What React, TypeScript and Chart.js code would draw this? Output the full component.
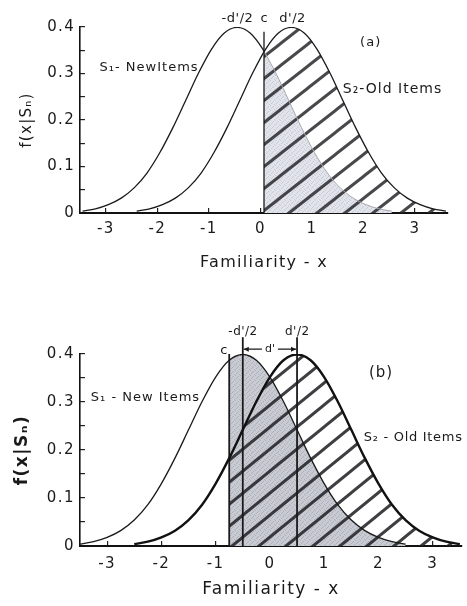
import React, { useEffect, useRef } from "react";
import { Chart, registerables } from "chart.js";
Chart.register(...registerables);

// ---------- data ----------
// Panel (a)
const NEW_A_X = [-3.45, -3.2, -2.95, -2.7, -2.45, -2.2, -1.95, -1.7, -1.45, -1.2, -0.95, -0.7, -0.45, -0.2, 0.05, 0.3, 0.55, 0.8, 1.05, 1.3, 1.55, 1.8, 2.05, 2.3, 2.55];
const NEW_A_Y = [0.004, 0.009, 0.018, 0.032, 0.054, 0.086, 0.13, 0.183, 0.242, 0.301, 0.352, 0.387, 0.399, 0.387, 0.352, 0.301, 0.242, 0.183, 0.13, 0.086, 0.054, 0.032, 0.018, 0.009, 0.004];
const OLD_A_X = [-2.4, -2.15, -1.9, -1.65, -1.4, -1.15, -0.9, -0.65, -0.4, -0.15, 0.1, 0.35, 0.6, 0.85, 1.1, 1.35, 1.6, 1.85, 2.1, 2.35, 2.6, 2.85, 3.1, 3.35, 3.6];
const OLD_A_Y = [0.004, 0.009, 0.018, 0.032, 0.054, 0.086, 0.13, 0.183, 0.242, 0.301, 0.352, 0.387, 0.399, 0.387, 0.352, 0.301, 0.242, 0.183, 0.13, 0.086, 0.054, 0.032, 0.018, 0.009, 0.004];
const CRIT_A = 0.07;
const CRIT_A_NEW_Y = 0.348;
const CRIT_A_OLD_Y = 0.346;
const CRIT_A_TOP = 0.39;

// Panel (b)
const NEW_B_X = [-3.5, -3.25, -3, -2.75, -2.5, -2.25, -2, -1.75, -1.5, -1.25, -1, -0.75, -0.5, -0.25, 0, 0.25, 0.5, 0.75, 1, 1.25, 1.5, 1.75, 2, 2.25, 2.5];
const NEW_B_Y = [0.004, 0.009, 0.018, 0.032, 0.054, 0.086, 0.13, 0.183, 0.242, 0.301, 0.352, 0.387, 0.399, 0.387, 0.352, 0.301, 0.242, 0.183, 0.13, 0.086, 0.054, 0.032, 0.018, 0.009, 0.004];
const OLD_B_X = [-2.5, -2.25, -2, -1.75, -1.5, -1.25, -1, -0.75, -0.5, -0.25, 0, 0.25, 0.5, 0.75, 1, 1.25, 1.5, 1.75, 2, 2.25, 2.5, 2.75, 3, 3.25, 3.5];
const OLD_B_Y = [0.004, 0.009, 0.018, 0.032, 0.054, 0.086, 0.13, 0.183, 0.242, 0.301, 0.352, 0.387, 0.399, 0.387, 0.352, 0.301, 0.242, 0.183, 0.13, 0.086, 0.054, 0.032, 0.018, 0.009, 0.004];
const CRIT_B = -0.75;
const CRIT_B_NEW_Y = 0.387;
const CRIT_B_OLD_Y = 0.183;
const CRIT_B_TOP = 0.4;
const MEANS_B = [-0.5, 0.5];
const MEAN_LINE_TOP_B = 0.435;

// Axes
const X_TICK_STEP = 1;
const Y_TICK_STEP = 0.05;
const Y_LABELS = [0, 0.1, 0.2, 0.3, 0.4];
const X_TITLE = "Familiarity - x";
const Y_TITLE = "f(x|Sₙ)";

const FONT = "'DejaVu Sans'";

// ---------- helpers ----------
type P = { x: number; y: number };
const pts = (xs: number[], ys: number[]): P[] => xs.map((x, i) => ({ x, y: ys[i] }));
const leftOf = (xs: number[], ys: number[], c: number, yc: number): P[] => [
  ...pts(xs, ys).filter((p) => p.x < c - 1e-9),
  { x: c, y: yc },
];
const rightOf = (xs: number[], ys: number[], c: number, yc: number): P[] => [
  { x: c, y: yc },
  ...pts(xs, ys).filter((p) => p.x > c + 1e-9),
];

function hatchPattern(w: number, h: number, lw: number, color: string) {
  const c = document.createElement("canvas");
  c.width = w;
  c.height = h;
  const g = c.getContext("2d")!;
  g.strokeStyle = color;
  g.lineWidth = lw;
  for (const k of [0, 1, 2]) {
    g.beginPath();
    g.moveTo((k - 2) * w, 2 * h);
    g.lineTo((k + 1) * w, -h);
    g.stroke();
  }
  return g.createPattern(c, "repeat")!;
}

function specklePattern(base: string, dot: string) {
  const c = document.createElement("canvas");
  c.width = 5;
  c.height = 5;
  const g = c.getContext("2d")!;
  g.fillStyle = base;
  g.fillRect(0, 0, 5, 5);
  g.fillStyle = dot;
  [[0, 0], [3, 1], [1, 3], [4, 4], [2, 2]].forEach(([x, y]) => g.fillRect(x, y, 1, 1));
  return g.createPattern(c, "repeat")!;
}

type Note = { text: string; x: number; y: number; font: string; align?: CanvasTextAlign; spacing?: number };
type Arrow = { x1: number; x2: number; y: number; gap: number };

const spacingPlugin = (px: number) => ({
  id: "spacing",
  beforeInit(chart: any) {
    (chart.ctx as any).letterSpacing = px + "px";
  },
  beforeDraw(chart: any) {
    (chart.ctx as any).letterSpacing = px + "px";
  },
});

const notesPlugin = (notes: Note[], arrows: Arrow[]) => ({
  id: "notes",
  afterDatasetsDraw(chart: any) {
    const { ctx } = chart;
    const xs = chart.scales.x;
    const ys = chart.scales.y;
    ctx.save();
    ctx.fillStyle = "#1a1a1a";
    ctx.textBaseline = "middle";
    for (const n of notes) {
      const sp = n.spacing ?? 1;
      (ctx as any).letterSpacing = sp + "px";
      ctx.font = n.font;
      ctx.textAlign = n.align || "center";
      const dx = (n.align || "center") === "center" ? sp / 2 : 0;
      ctx.fillText(n.text, xs.getPixelForValue(n.x) + dx, ys.getPixelForValue(n.y));
    }
    ctx.strokeStyle = "#1a1a1a";
    ctx.lineWidth = 1.2;
    for (const a of arrows) {
      const px1 = xs.getPixelForValue(a.x1);
      const px2 = xs.getPixelForValue(a.x2);
      const mid = (px1 + px2) / 2;
      const py = ys.getPixelForValue(a.y);
      const g = a.gap;
      ctx.beginPath();
      ctx.moveTo(px1 + 1, py);
      ctx.lineTo(mid - g, py);
      ctx.moveTo(mid + g, py);
      ctx.lineTo(px2 - 1, py);
      ctx.stroke();
      ctx.beginPath();
      ctx.moveTo(px1 + 1, py);
      ctx.lineTo(px1 + 6, py - 2.5);
      ctx.lineTo(px1 + 6, py + 2.5);
      ctx.closePath();
      ctx.moveTo(px2 - 1, py);
      ctx.lineTo(px2 - 6, py - 2.5);
      ctx.lineTo(px2 - 6, py + 2.5);
      ctx.closePath();
      ctx.fill();
    }
    ctx.restore();
  },
});

type AxisCfg = {
  min: number;
  max: number;
  xHeight: number;
  yWidth: number;
  xLabelPad: number;
  xTitlePadBottom: number;
  yTitlePad: number;
  tickFont: any;
  xTitleFont: any;
  yTitleFont: any;
  padTop: number;
  padRight: number;
};

function baseOptions(a: AxisCfg) {
  return {
    animation: false,
    responsive: false,
    devicePixelRatio: 1,
    layout: { padding: { left: 0, right: a.padRight, top: a.padTop, bottom: 0 } },
    plugins: {
      legend: { display: false },
      tooltip: { enabled: false },
      filler: { drawTime: "beforeDatasetsDraw", propagate: false },
    },
    elements: { point: { radius: 0 }, line: { cubicInterpolationMode: "monotone" } },
    scales: {
      x: {
        type: "linear",
        min: a.min,
        max: a.max,
        afterFit: (s: any) => {
          s.height = a.xHeight;
        },
        ticks: {
          stepSize: X_TICK_STEP,
          includeBounds: false,
          padding: a.xLabelPad,
          maxRotation: 0,
          autoSkip: false,
          font: a.tickFont,
          color: "#1a1a1a",
          callback: (v: number) => String(Math.round(v)),
        },
        grid: { drawOnChartArea: false, drawTicks: true, tickLength: -5, color: "#222", lineWidth: 1.2 },
        border: { color: "#111", width: 2 },
        title: {
          display: true,
          text: X_TITLE,
          font: a.xTitleFont,
          color: "#1a1a1a",
          padding: { top: 0, bottom: a.xTitlePadBottom },
        },
      },
      y: {
        type: "linear",
        min: 0,
        max: 0.4,
        afterFit: (s: any) => {
          s.width = a.yWidth;
        },
        ticks: {
          stepSize: Y_TICK_STEP,
          includeBounds: false,
          padding: 10,
          autoSkip: false,
          font: a.tickFont,
          color: "#1a1a1a",
          callback: (v: number) => {
            const hit = Y_LABELS.find((l) => Math.abs(l - v) < 1e-6);
            if (hit === undefined) return "";
            return hit === 0 ? "0" : hit.toFixed(1);
          },
        },
        grid: { drawOnChartArea: false, drawTicks: true, tickLength: -5, color: "#222", lineWidth: 1.2 },
        border: { color: "#111", width: 1.6 },
        title: {
          display: true,
          text: Y_TITLE,
          font: a.yTitleFont,
          color: "#1a1a1a",
          padding: { top: a.yTitlePad, bottom: 0 },
        },
      },
    },
  };
}

function configA() {
  const grey = specklePattern("#e2e4ec", "#c9ccd6");
  const hatch = hatchPattern(28, 22, 3, "rgba(40,40,45,0.85)");
  const data = {
    datasets: [
      { data: leftOf(NEW_A_X, NEW_A_Y, CRIT_A, CRIT_A_NEW_Y), borderColor: "#1a1a1a", borderWidth: 1.3, fill: false, order: 1 },
      { data: pts(OLD_A_X, OLD_A_Y), borderColor: "#1a1a1a", borderWidth: 1.3, fill: false, order: 1 },
      {
        data: [{ x: CRIT_A, y: 0 }, { x: CRIT_A, y: CRIT_A_TOP }],
        borderColor: "#1a1a1a",
        borderWidth: 1.3,
        fill: false,
        clip: false,
        order: 1,
      },
      {
        data: rightOf(OLD_A_X, OLD_A_Y, CRIT_A, CRIT_A_OLD_Y),
        borderColor: "rgba(0,0,0,0)",
        borderWidth: 0,
        backgroundColor: hatch,
        fill: "origin",
        order: 5,
      },
      {
        data: rightOf(NEW_A_X, NEW_A_Y, CRIT_A, CRIT_A_NEW_Y),
        borderColor: "#a8a8ae",
        borderWidth: 1,
        backgroundColor: grey,
        fill: "origin",
        order: 10,
      },
    ],
  };
  const notes: Note[] = [
    { text: "-d'/2", x: -0.45, y: 0.419, font: `13px ${FONT}`, spacing: 0.5 },
    { text: "c", x: CRIT_A, y: 0.419, font: `13px ${FONT}` },
    { text: "d'/2", x: 0.62, y: 0.419, font: `13px ${FONT}`, spacing: 0.5 },
    { text: "(a)", x: 2.13, y: 0.366, font: `13px ${FONT}` },
    { text: "S₁- NewItems", x: -3.12, y: 0.312, font: `13px ${FONT}`, align: "left" },
    { text: "S₂-Old Items", x: 1.6, y: 0.265, font: `14px ${FONT}`, align: "left" },
  ];
  const options = baseOptions({
    min: -3.5,
    max: 3.64,
    xHeight: 77,
    yWidth: 80,
    xLabelPad: 12,
    xTitlePadBottom: 18,
    yTitlePad: 18,
    tickFont: { family: FONT, size: 15 },
    xTitleFont: { family: FONT, size: 16 },
    yTitleFont: { family: FONT, size: 15 },
    padTop: 27,
    padRight: 19,
  });
  return { type: "line", data, options, plugins: [spacingPlugin(1.3), notesPlugin(notes, [])] };
}

function configB() {
  const grey = specklePattern("#c9cbd3", "#aeb1bb");
  const hatch = hatchPattern(27, 22, 3, "rgba(35,35,40,0.88)");
  const vline = (x: number, top: number) => ({
    data: [{ x, y: 0 }, { x, y: top }],
    borderColor: "#1a1a1a",
    borderWidth: 1.8,
    fill: false,
    clip: false,
    order: 1,
  });
  const data = {
    datasets: [
      { data: pts(NEW_B_X, NEW_B_Y), borderColor: "#1a1a1a", borderWidth: 1.3, fill: false, order: 2 },
      { data: pts(OLD_B_X, OLD_B_Y), borderColor: "#111", borderWidth: 2.4, fill: false, order: 1 },
      vline(CRIT_B, CRIT_B_TOP),
      vline(MEANS_B[0], MEAN_LINE_TOP_B),
      vline(MEANS_B[1], MEAN_LINE_TOP_B),
      {
        data: rightOf(OLD_B_X, OLD_B_Y, CRIT_B, CRIT_B_OLD_Y),
        borderColor: "rgba(0,0,0,0)",
        borderWidth: 0,
        backgroundColor: hatch,
        fill: "origin",
        order: 5,
      },
      {
        data: rightOf(NEW_B_X, NEW_B_Y, CRIT_B, CRIT_B_NEW_Y),
        borderColor: "rgba(0,0,0,0)",
        borderWidth: 0,
        backgroundColor: grey,
        fill: "origin",
        order: 10,
      },
    ],
  };
  const notes: Note[] = [
    { text: "-d'/2", x: MEANS_B[0], y: 0.446, font: `12px ${FONT}`, spacing: 0.5 },
    { text: "d'/2", x: MEANS_B[1], y: 0.446, font: `12px ${FONT}`, spacing: 0.5 },
    { text: "c", x: -0.85, y: 0.408, font: `13px ${FONT}` },
    { text: "d'", x: 0, y: 0.41, font: `11px ${FONT}`, spacing: 0 },
    { text: "(b)", x: 2.04, y: 0.36, font: `15px ${FONT}` },
    { text: "S₁ - New Items", x: -3.3, y: 0.31, font: `13px ${FONT}`, align: "left" },
    { text: "S₂ - Old Items", x: 1.73, y: 0.225, font: `13px ${FONT}`, align: "left", spacing: 0.7 },
  ];
  const arrows: Arrow[] = [{ x1: MEANS_B[0], x2: MEANS_B[1], y: 0.41, gap: 8 }];
  const options = baseOptions({
    min: -3.5,
    max: 3.54,
    xHeight: 60,
    yWidth: 80,
    xLabelPad: 14,
    xTitlePadBottom: 6,
    yTitlePad: 12,
    tickFont: { family: FONT, size: 15 },
    xTitleFont: { family: FONT, size: 17 },
    yTitleFont: { family: FONT, size: 17, weight: "bold" },
    padTop: 59,
    padRight: 5,
  });
  return { type: "line", data, options, plugins: [spacingPlugin(1.5), notesPlugin(notes, arrows)] };
}

function Panel({ top, height, build }: { top: number; height: number; build: () => any }) {
  const ref = useRef<HTMLCanvasElement | null>(null);
  useEffect(() => {
    if (!ref.current) return;
    const chart = new Chart(ref.current, build());
    return () => chart.destroy();
  }, [build]);
  return (
    <div style={{ position: "absolute", left: 0, top, width: 467, height }}>
      <canvas ref={ref} width={467} height={height} style={{ display: "block", width: 467, height }} />
    </div>
  );
}

export default function App() {
  return (
    <div style={{ position: "absolute", left: 0, top: 0, width: 467, height: 606, background: "#fff" }}>
      <Panel top={0} height={290} build={configA} />
      <Panel top={295} height={311} build={configB} />
    </div>
  );
}
